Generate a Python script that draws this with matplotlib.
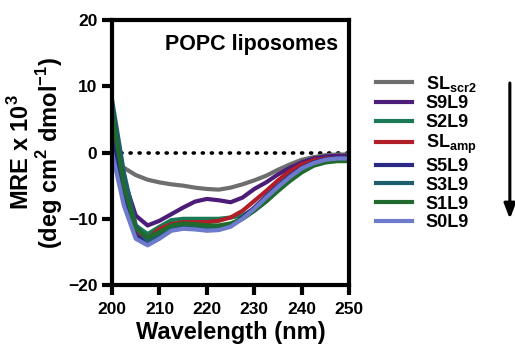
import matplotlib.pyplot as plt
import numpy as np

plt.rcParams["font.family"] = ["Liberation Sans", "DejaVu Sans"]
plt.rcParams["font.weight"] = "bold"
plt.rcParams["mathtext.fontset"] = "custom"
plt.rcParams["mathtext.rm"] = "Liberation Sans:bold"
plt.rcParams["mathtext.bf"] = "Liberation Sans:bold"

# Wavelength grid (nm) and MRE values (x 10^3)
wavelength = [200, 202.5, 205, 207.5, 210, 212.5, 215, 217.5, 220, 222.5, 225,
              227.5, 230, 232.5, 235, 237.5, 240, 242.5, 245, 247.5, 250]

sl_scr2 = [-1, -2.3, -3.4, -4.1, -4.5, -4.8, -5.0, -5.3, -5.5, -5.6, -5.3,
           -4.8, -4.2, -3.5, -2.6, -1.8, -1.1, -0.7, -0.4, -0.3, -0.3]
s9l9 = [3, -4, -9.5, -11, -10.3, -9.3, -8.3, -7.4, -7.0, -7.2, -7.5,
        -6.8, -5.5, -4.5, -3.3, -2.3, -1.5, -0.9, -0.6, -0.5, -0.5]
s2l9 = [5, -5, -11, -12.3, -11.2, -10.2, -10.0, -10.0, -10.0, -10.0, -9.8,
        -9.5, -8.5, -7.2, -5.5, -4.0, -2.6, -1.7, -1.2, -1.0, -1.0]
sl_amp = [3, -6, -12, -13, -11.5, -10.8, -10.5, -10.5, -10.5, -10.3, -9.8,
          -8.8, -7.3, -5.8, -4.2, -2.8, -1.8, -1.2, -0.9, -0.8, -0.8]
s5l9 = [2, -7, -12.5, -13.8, -12.8, -11.5, -11.2, -11.4, -11.6, -11.5, -11.0,
        -9.8, -8.3, -6.6, -5.0, -3.5, -2.3, -1.5, -1.0, -0.8, -0.8]
s3l9 = [8, -3, -11, -13.3, -12.5, -11.3, -11.0, -11.2, -11.4, -11.3, -11.0,
        -10.0, -8.7, -7.2, -5.6, -4.0, -2.7, -1.8, -1.3, -1.1, -1.0]
s1l9 = [6, -5, -11.5, -12.8, -12.0, -11.0, -10.7, -10.8, -11.0, -11.0, -10.7,
        -10.0, -8.8, -7.4, -5.8, -4.3, -3.0, -2.0, -1.5, -1.3, -1.3]
s0l9 = [0, -8, -13, -14, -13, -11.8, -11.5, -11.6, -11.8, -11.7, -11.2,
        -10.0, -8.5, -6.8, -5.2, -3.7, -2.4, -1.6, -1.1, -0.9, -0.9]

labels = [r"SL$_\mathregular{scr2}$", "S9L9", "S2L9", r"SL$_\mathregular{amp}$",
          "S5L9", "S3L9", "S1L9", "S0L9"]
series = [sl_scr2, s9l9, s2l9, sl_amp, s5l9, s3l9, s1l9, s0l9]
colors = ["#6e6e6e", "#4b1c78", "#1b7a55", "#b01e28",
          "#2a2a86", "#1d5e6c", "#1f6a2c", "#6e7bcc"]

fig = plt.figure(figsize=(5.15, 3.49), dpi=100)
ax = fig.add_axes([0.2175, 0.183, 0.4605, 0.76])

ax.plot([200, 250], [0, 0], color="black", lw=2.6, ls=(0, (0.3, 2.2)),
        dash_capstyle="round", zorder=1)

handles = []
for vals, lab, col in zip(series, labels, colors):
    (h,) = ax.plot(wavelength, vals, color=col, lw=3, label=lab)
    handles.append(h)

ax.set_xlim(200, 250)
ax.set_ylim(-20, 20)
ax.set_xticks(np.arange(200, 251, 10))
ax.set_yticks([-20, -10, 0, 10, 20])
ax.tick_params(width=3, length=7, labelsize=12.5)
ax.tick_params(axis="x", pad=5)
for sp in ax.spines.values():
    sp.set_linewidth(3)

ax.set_xlabel("Wavelength (nm)", fontsize=17, fontweight="bold", labelpad=3)
ax.set_ylabel("MRE x 10$^3$\n(deg cm$^2$ dmol$^{-1}$)", fontsize=17,
              fontweight="bold", labelpad=2, linespacing=1.0)
ax.text(0.955, 0.945, "POPC liposomes", transform=ax.transAxes, ha="right",
        va="top", fontsize=15.5, fontweight="bold")

fig.legend(handles=handles, labels=labels, loc="upper left",
           bbox_to_anchor=(0.716, 0.81), frameon=False, fontsize=13,
           handlelength=2.0, handletextpad=0.75, labelspacing=0.1,
           borderaxespad=0)

ax.annotate("", xy=(0.99, 0.365), xytext=(0.99, 0.77), xycoords="figure fraction",
            arrowprops=dict(arrowstyle="-|>,head_width=0.35,head_length=0.9",
                            color="black", lw=2.2))

fig.savefig("out.png", dpi=100)
